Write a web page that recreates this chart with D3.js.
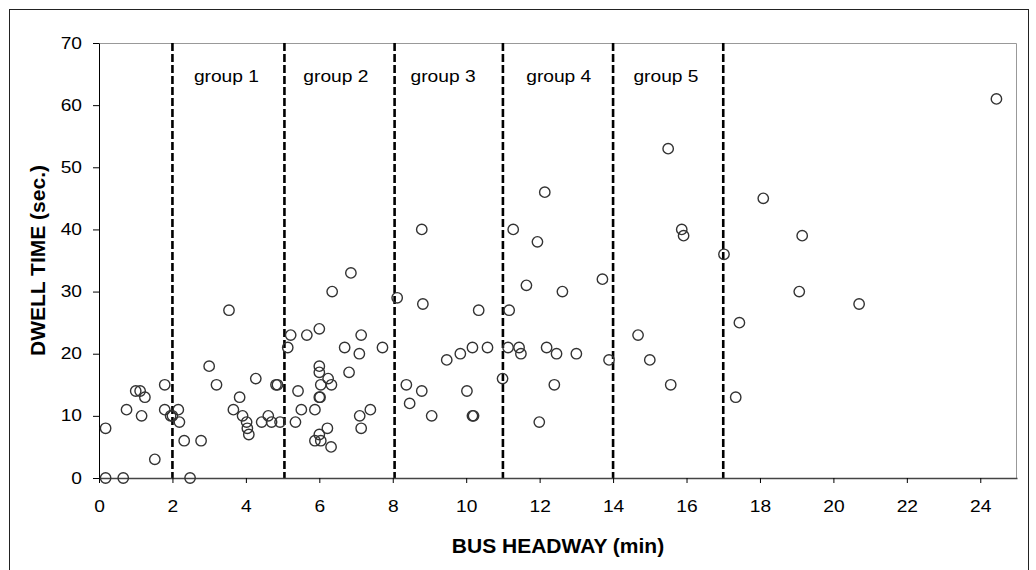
<!DOCTYPE html>
<html>
<head>
<meta charset="utf-8">
<script src="https://cdn.jsdelivr.net/npm/d3@7"></script>
<style>
  body { margin: 0; background: #fff; }
  svg { display: block; }
  text { font-family: Arial, "Liberation Sans", sans-serif; }
</style>
</head>
<body>
<div id="chart"></div>
<script>
// headway (min) and dwell time (sec.), point by point
var headway = [
  0.18, 0.18, 0.66, 0.75, 1.0, 1.12, 1.25, 1.16, 1.52, 1.79, 1.79, 1.95, 2.0,
  2.16, 2.19, 2.32, 2.48, 2.78, 3.0, 3.2, 3.54, 3.66, 3.83, 3.91, 4.02, 4.04, 4.08, 4.27, 4.43, 4.61, 4.7, 4.82, 4.86, 4.93,
  5.14, 5.22, 5.35, 5.42, 5.51, 5.66, 6.35, 6.86, 6.0, 7.14, 6.69, 7.09, 7.72, 6.0, 6.0, 6.24, 6.81, 6.04, 6.33, 6.0, 6.02, 5.88, 7.39, 7.1, 6.22, 7.14, 6.0, 5.88, 6.04, 6.32,
  8.12, 8.82, 8.79, 10.34, 8.37, 8.79, 8.46, 9.06, 9.47, 9.84, 10.17, 10.58, 10.02, 10.17, 10.2, 10.99,
  11.14, 11.44, 11.49, 12.19, 12.46, 13.0, 13.89, 12.4, 11.99, 12.14, 11.28, 11.94, 13.71, 11.64, 12.62, 11.17,
  14.68, 15.0, 15.57, 15.5, 15.87, 15.92, 17.02,
  17.34, 17.44, 18.09, 19.15, 19.07, 20.7, 24.44
];
var dwell = [
  8, 0, 0, 11, 14, 14, 13, 10, 3, 15, 11, 10, 10,
  11, 9, 6, 0, 6, 18, 15, 27, 11, 13, 10, 9, 8, 7, 16, 9, 10, 9, 15, 15, 9,
  21, 23, 9, 14, 11, 23, 30, 33, 24, 23, 21, 20, 21, 18, 17, 16, 17, 15, 15, 13, 13, 11, 11, 10, 8, 8, 7, 6, 6, 5,
  29, 28, 40, 27, 15, 14, 12, 10, 19, 20, 21, 21, 14, 10, 10, 16,
  21, 21, 20, 21, 20, 20, 19, 15, 9, 46, 40, 38, 32, 31, 30, 27,
  23, 19, 15, 53, 40, 39, 36,
  13, 25, 45, 39, 30, 28, 61
];

var groupBounds = [2, 5.05, 8.05, 11, 14, 17];
var groupNames = ["group 1", "group 2", "group 3", "group 4", "group 5"];
var groupLabelX = [3.47, 6.45, 9.37, 12.52, 15.44];

var xTickValues = [0, 2, 4, 6, 8, 10, 12, 14, 16, 18, 20, 22, 24];
var yTickValues = [0, 10, 20, 30, 40, 50, 60, 70];

var width = 1036, height = 570;
var margin = {top: 43, right: 19, bottom: 92, left: 99};
var innerW = width - margin.left - margin.right;
var innerH = height - margin.top - margin.bottom;
var stretch = 1.2;   // the chart's small text is drawn a little wide

var svg = d3.select("#chart").append("svg")
  .attr("width", width)
  .attr("height", height);

// outer chart frame
svg.append("rect")
  .attr("x", 9.5).attr("y", 9.5)
  .attr("width", 1019).attr("height", 600)
  .attr("fill", "none")
  .attr("stroke", "#222")
  .attr("stroke-width", 1);

var g = svg.append("g")
  .attr("transform", "translate(" + margin.left + "," + margin.top + ")");

var x = d3.scaleLinear().domain([0, 25]).range([0, innerW]);
var y = d3.scaleLinear().domain([0, 70]).range([innerH, 0]);

// plot area top and right border
g.append("path")
  .attr("d", "M0,0.5H" + (innerW - 0.5) + "V" + innerH)
  .attr("fill", "none")
  .attr("stroke", "#999")
  .attr("stroke-width", 1);

// group separators
g.selectAll(".sep")
  .data(groupBounds)
  .enter().append("line")
  .attr("class", "sep")
  .attr("x1", function(d) { return x(d); })
  .attr("x2", function(d) { return x(d); })
  .attr("y1", 0)
  .attr("y2", innerH)
  .attr("stroke", "#000")
  .attr("stroke-width", 2.6)
  .attr("stroke-dasharray", "8,3");

g.selectAll(".glabel")
  .data(groupNames)
  .enter().append("text")
  .attr("class", "glabel")
  .attr("transform", function(d, i) {
    return "translate(" + x(groupLabelX[i]) + ",39) scale(" + stretch + ",1)";
  })
  .attr("text-anchor", "middle")
  .attr("font-size", 16)
  .attr("fill", "#000")
  .text(function(d) { return d; });

// y axis
var yAxis = g.append("g")
  .call(d3.axisLeft(y).tickValues(yTickValues).tickSize(6).tickSizeOuter(0));
yAxis.select(".domain").attr("stroke", "#000");
yAxis.selectAll(".tick line").attr("stroke", "#000");
yAxis.selectAll(".tick text")
  .attr("x", -17 / stretch)
  .attr("transform", "scale(" + stretch + ",1)")
  .attr("font-size", 16)
  .attr("fill", "#000");

// x axis
var xAxis = g.append("g")
  .attr("transform", "translate(0," + innerH + ")")
  .call(d3.axisBottom(x).tickValues(xTickValues).tickSize(5).tickSizeOuter(0));
xAxis.select(".domain").attr("stroke", "#444").attr("stroke-width", 1.6);
xAxis.selectAll(".tick line").attr("stroke", "#000");
xAxis.selectAll(".tick text")
  .attr("y", 23)
  .attr("dy", "0.71em")
  .attr("transform", "scale(" + stretch + ",1)")
  .attr("font-size", 16)
  .attr("fill", "#000");

// points
g.selectAll(".pt")
  .data(headway)
  .enter().append("circle")
  .attr("class", "pt")
  .attr("cx", function(d) { return x(d); })
  .attr("cy", function(d, i) { return y(dwell[i]); })
  .attr("r", 5.2)
  .attr("fill", "none")
  .attr("stroke", "#333")
  .attr("stroke-width", 1.4);

// axis titles
svg.append("text")
  .attr("x", margin.left + innerW / 2)
  .attr("y", 553)
  .attr("text-anchor", "middle")
  .attr("font-size", 21)
  .attr("font-weight", "bold")
  .text("BUS HEADWAY (min)");

svg.append("text")
  .attr("transform", "translate(45," + (margin.top + innerH / 2) + ") rotate(-90)")
  .attr("text-anchor", "middle")
  .attr("font-size", 21)
  .attr("font-weight", "bold")
  .text("DWELL TIME (sec.)");
</script>
</body>
</html>
